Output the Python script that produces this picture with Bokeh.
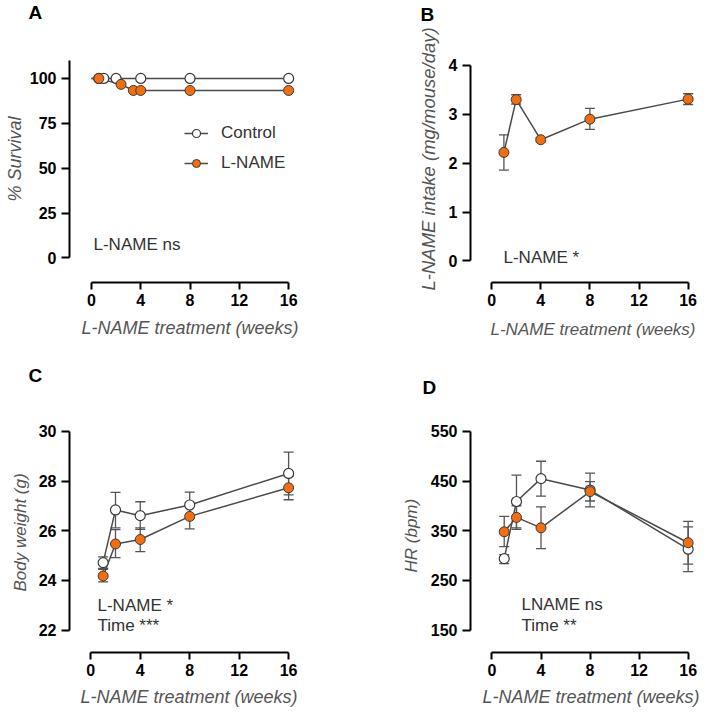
import math
from bokeh.plotting import figure
from bokeh.models import (ColumnDataSource, Whisker, TeeHead, Label, Legend,
                          LegendItem, FixedTicker, Range1d, Title)
from bokeh.layouts import gridplot
from bokeh.embed import file_html
from bokeh.resources import INLINE

# ---------------- data ----------------
x_ticks = [0, 4, 8, 12, 16]
weeks = [1, 2, 4, 8, 16]

# A: survival (%)
surv_ctrl_weeks = [0, 0.6, 1, 2, 4, 8, 16]
surv_ctrl = [100, 100, 100, 100, 100, 100, 100]
surv_lname_weeks = [0, 0.6, 2.4, 3.4, 4, 8, 16]
surv_lname = [100, 100, 96.7, 93.3, 93.3, 93.3, 93.3]
surv_ticks = [0, 25, 50, 75, 100]

# B: L-NAME intake (mg/mouse/day)
intake = [2.22, 3.30, 2.48, 2.90, 3.31]
intake_lo = [1.86, 3.21, 2.44, 2.69, 3.20]
intake_hi = [2.58, 3.40, 2.52, 3.12, 3.42]
intake_ticks = [0, 1, 2, 3, 4]

# C: body weight (g)
bw_ctrl = [24.72, 26.84, 26.61, 27.04, 28.31]
bw_ctrl_lo = [24.49, 26.12, 26.06, 26.52, 27.45]
bw_ctrl_hi = [24.95, 27.55, 27.17, 27.56, 29.17]
bw_lname = [24.18, 25.47, 25.65, 26.58, 27.73]
bw_lname_lo = [23.94, 24.92, 25.16, 26.08, 27.25]
bw_lname_hi = [24.45, 26.05, 26.12, 27.05, 28.20]
bw_ticks = [22, 24, 26, 28, 30]

# D: heart rate (bpm)
hr_ctrl = [294, 409, 455, 432, 313]
hr_ctrl_lo = [284, 356, 420, 398, 268]
hr_ctrl_hi = [302, 462, 490, 466, 358]
hr_lname = [348, 377, 356, 429, 326]
hr_lname_lo = [318, 353, 314, 410, 283]
hr_lname_hi = [379, 400, 398, 449, 369]
hr_ticks = [150, 250, 350, 450, 550]

# ---------------- style ----------------
FONT = "Liberation Sans"
ORANGE = "#F46D0E"
EDGE = "#3a3a3a"
LINE = "#4a4a4a"
ERR = "#555555"
LABEL_GRAY = "#555555"
TEXT = "#333333"
MSIZE = 10


def make_fig(xr, yr, left, right, top, bottom, ybounds, yticks):
    p = figure(width=353, height=358, x_range=Range1d(*xr), y_range=Range1d(*yr),
               output_backend="svg", toolbar_location=None,
               min_border_left=left, min_border_right=right,
               min_border_top=top, min_border_bottom=bottom)
    p.grid.visible = False
    p.outline_line_color = None
    p.background_fill_color = "white"
    for ax in (p.xaxis[0], p.yaxis[0]):
        ax.axis_line_width = 2
        ax.axis_line_color = "black"
        ax.major_tick_line_width = 2
        ax.major_tick_line_color = "black"
        ax.major_tick_in = 0
        ax.minor_tick_in = 0
        ax.minor_tick_out = 0
        ax.major_label_text_font = FONT
        ax.major_label_text_font_style = "bold"
        ax.major_label_text_font_size = "16px"
        ax.major_label_text_color = "black"
    p.xaxis.major_tick_out = 7
    p.yaxis.major_tick_out = 8
    p.xaxis.major_label_standoff = 4
    p.yaxis.major_label_standoff = 5
    p.xaxis.bounds = (0, 16)
    p.xaxis.ticker = FixedTicker(ticks=x_ticks)
    p.yaxis.bounds = ybounds
    p.yaxis.ticker = FixedTicker(ticks=yticks)
    return p


def decorate(p, letter, lx, ly, ylabel, ysize, y_off, y_stand,
             xlabel, xsize, x_off, x_stand):
    p.add_layout(Label(x=lx, y=ly, x_units="screen", y_units="screen", text=letter,
                       text_font=FONT, text_font_size="19px", text_font_style="bold",
                       text_color="black", text_align="left",
                       text_baseline="middle"), "above")
    p.add_layout(Title(text=ylabel, align="left", offset=y_off, standoff=y_stand,
                       text_font=FONT, text_font_size=ysize,
                       text_font_style="italic", text_color=LABEL_GRAY), "left")
    p.add_layout(Title(text=xlabel, align="left", offset=x_off, standoff=x_stand,
                       text_font=FONT, text_font_size=xsize,
                       text_font_style="italic", text_color=LABEL_GRAY), "below")


def add_text(p, text, sx, sy):
    p.add_layout(Label(x=sx, y=sy, x_units="screen", y_units="screen", text=text,
                       text_font=FONT, text_font_size="17px", text_color=TEXT,
                       text_align="left", text_baseline="middle"))


def add_series(p, xs, ys, lo, hi):
    src = ColumnDataSource(dict(x=xs, y=ys, lo=lo, hi=hi))
    p.add_layout(Whisker(source=src, base="x", lower="lo", upper="hi",
                         line_color=ERR, line_width=1.3,
                         upper_head=TeeHead(size=10, line_color=ERR, line_width=1.3),
                         lower_head=TeeHead(size=10, line_color=ERR, line_width=1.3)))
    p.line("x", "y", source=src, line_color=LINE, line_width=1.5)
    return src


XLAB = "L-NAME treatment (weeks)"

# ---------------- Panel A ----------------
pA = make_fig((-1.78, 16.8), (-13.7, 110), 68, 55, 60, 75, (0, 110), surv_ticks)
lc = pA.line(surv_ctrl_weeks, surv_ctrl, line_color=LINE, line_width=1.5)
ll = pA.line(surv_lname_weeks, surv_lname, line_color=LINE, line_width=1.5)
sc = pA.scatter(surv_ctrl_weeks[1:], surv_ctrl[1:], size=MSIZE, fill_color="white",
                line_color=EDGE, line_width=1.2)
sl = pA.scatter(surv_lname_weeks[1:], surv_lname[1:], size=MSIZE, fill_color=ORANGE,
                line_color=EDGE, line_width=1)
legend = Legend(items=[LegendItem(label="Control", renderers=[lc, sc]),
                       LegendItem(label="L-NAME", renderers=[ll, sl])],
                location=(115, 109), orientation="vertical",
                glyph_width=24, glyph_height=20, label_height=20, spacing=10,
                padding=0, margin=0, label_standoff=13,
                label_text_font=FONT, label_text_font_size="17px",
                label_text_color=TEXT, border_line_color=None,
                background_fill_alpha=0)
pA.add_layout(legend)
decorate(pA, "A", -41, 48.5, "% Survival", "18px", 81, 4, XLAB, "18px", 12, 15)
add_text(pA, "L-NAME ns", 24, 38)

# ---------------- Panel B ----------------
pB = make_fig((-1.72, 16.6), (-0.44, 4.1), 117, 7, 58, 76, (0, 4), intake_ticks)
add_series(pB, weeks, intake, intake_lo, intake_hi)
pB.scatter(weeks, intake, size=MSIZE, fill_color=ORANGE, line_color=EDGE, line_width=1)
decorate(pB, "B", -50, 46.5, "L-NAME intake (mg/mouse/day)", "18.5px", -8, 14,
         XLAB, "17px", 20, 19)
add_text(pB, "L-NAME *", 33, 25)

# ---------------- Panel C ----------------
pC = make_fig((-1.72, 16.8), (21.1, 30.2), 69, 47, 68, 64, (22, 30), bw_ticks)
add_series(pC, weeks, bw_ctrl, bw_ctrl_lo, bw_ctrl_hi)
add_series(pC, weeks, bw_lname, bw_lname_lo, bw_lname_hi)
pC.scatter(weeks, bw_ctrl, size=MSIZE, fill_color="white", line_color=EDGE, line_width=1.2)
pC.scatter(weeks, bw_lname, size=MSIZE, fill_color=ORANGE, line_color=EDGE, line_width=1)
decorate(pC, "C", -41, 51, "Body weight (g)", "17px", 61, 12, XLAB, "18px", 11, 12)
add_text(pC, "L-NAME *", 28, 47)
add_text(pC, "Time ***", 28, 27)

# ---------------- Panel D ----------------
pD = make_fig((-1.75, 16.6), (105, 560), 115, 11, 58, 64, (150, 550), hr_ticks)
add_series(pD, weeks, hr_ctrl, hr_ctrl_lo, hr_ctrl_hi)
add_series(pD, weeks, hr_lname, hr_lname_lo, hr_lname_hi)
pD.scatter(weeks, hr_ctrl, size=MSIZE, fill_color="white", line_color=EDGE, line_width=1.2)
pD.scatter(weeks, hr_lname, size=MSIZE, fill_color=ORANGE, line_color=EDGE, line_width=1)
decorate(pD, "D", -48, 39.5, "HR (bpm)", "17px", 80, 13, XLAB, "18px", 12, 12)
add_text(pD, "LNAME ns", 51, 48)
add_text(pD, "Time **", 51, 27)

grid = gridplot([[pA, pB], [pC, pD]], toolbar_location=None)

open("out.html", "w").write(file_html(grid, INLINE))
